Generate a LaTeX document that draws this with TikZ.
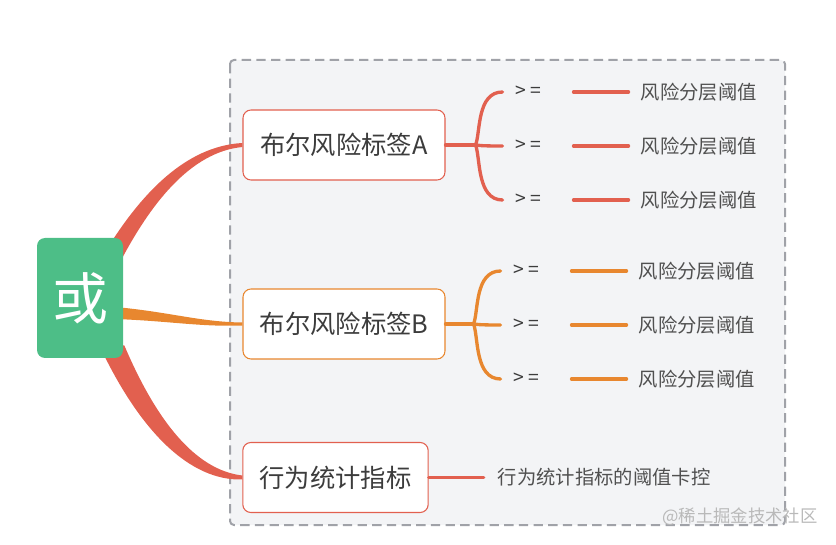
\documentclass[tikz,border=0pt]{standalone}
\usepackage{fontspec}
\setmainfont{Noto Sans CJK SC}
\usetikzlibrary{calc,backgrounds}

\definecolor{rootgreen}{HTML}{4DBE87}
\definecolor{branchred}{HTML}{E2604F}
\definecolor{branchorange}{HTML}{E8872F}
\definecolor{panelgray}{HTML}{F3F4F6}
\definecolor{framegray}{HTML}{A0A2A8}
\definecolor{textgray}{HTML}{3C3C3C}

\tikzset{
  tag/.style={draw, fill=white, rounded corners=6pt, line width=0.8pt,
    minimum width=151.5pt, minimum height=52.5pt, inner sep=0pt,
    text=textgray, font=\fontsize{19}{19}\selectfont},
  gelabel/.style={anchor=west, inner sep=0pt, text=textgray,
    font=\fontsize{14.5}{14.5}\selectfont},
  thrlabel/.style={anchor=west, inner sep=0pt, text=textgray!90,
    font=\fontsize{14.5}{14.5}\selectfont},
  twig/.style={line width=2.5pt, line cap=round}
}

\begin{document}
\begin{tikzpicture}[x=0.75pt,y=-0.75pt]
\useasboundingbox (0,0) rectangle (836,545);

% root and tags
\node[fill=rootgreen, rounded corners=6pt, minimum width=64.5pt, minimum height=90pt,
  inner sep=0pt, text=white, font=\fontsize{42}{42}\selectfont] (root) at (80,298) {或};
\node[tag, draw=branchred] (tagA) at (344,145) {布尔风险标签A};
\node[tag, draw=branchorange] (tagB) at (344,324) {布尔风险标签B};
\node[tag, draw=branchred, minimum width=139pt] (stat) at (335.5,477.5) {行为统计指标};

% panel and main branches behind the nodes
\begin{pgfonlayer}{background}
\draw[framegray, fill=panelgray, line width=1.5pt, dash pattern=on 7pt off 4pt,
  rounded corners=3pt] (230,60) rectangle (785,525);
\fill[branchred] ($(root.north east)+(-18,14)$) .. controls (140,195) and (185,146) ..
  ($(tagA.west)+(0,-2)$) -- ($(tagA.west)+(0,2)$) .. controls (190,152) and (150,205) ..
  ($(root.north east)+(-3,24)$) -- cycle;
\fill[branchorange] ($(root.east)+(-8,9)$) .. controls (170,312) and (200,322) ..
  ($(tagB.west)+(0,-1.5)$) -- ($(tagB.west)+(0,1.5)$) .. controls (200,327) and (170,321) ..
  ($(root.east)+(-8,21)$) -- cycle;
\fill[branchred] ($(root.south east)+(-24,-13)$) .. controls (140,432) and (190,481) ..
  ($(stat.west)+(0,2)$) -- ($(stat.west)+(0,-2)$) .. controls (195,470) and (156,420) ..
  ($(root.south east)+(1,-13)$) -- cycle;
\end{pgfonlayer}

% tag A thresholds
\coordinate (jA) at ($(tagA.east)+(30,0)$);
\draw[twig, branchred] (tagA.east) -- (jA);
\foreach \i/\dy in {1/-53,2/1,3/55} {
  \coordinate (bA\i) at ($(jA)+(27,\dy)$);
  \draw[twig, branchred] (jA) .. controls +(5,0.22*\dy) and +(-26,0) .. (bA\i);
  \node[gelabel] (geA\i) at ($(jA)+(40,\dy)$) {> =};
  \node[thrlabel] (thrA\i) at ($(jA)+(165,\dy)$) {风险分层阈值};
  \draw[twig, branchred] ($(jA)+(98,\dy)$) -- ($(thrA\i.west)+(-12,0)$);
}

% tag B thresholds
\coordinate (jB) at ($(tagB.east)+(28,0)$);
\draw[twig, branchorange] (tagB.east) -- (jB);
\foreach \i/\dy in {1/-53,2/1,3/55} {
  \coordinate (bB\i) at ($(jB)+(27,\dy)$);
  \draw[twig, branchorange] (jB) .. controls +(5,0.22*\dy) and +(-26,0) .. (bB\i);
  \node[gelabel] (geB\i) at ($(jB)+(40,\dy)$) {> =};
  \node[thrlabel] (thrB\i) at ($(jB)+(165,\dy)$) {风险分层阈值};
  \draw[twig, branchorange] ($(jB)+(98,\dy)$) -- ($(thrB\i.west)+(-12,0)$);
}

% behaviour statistics
\node[thrlabel] (statThr) at ($(stat.east)+(69,0)$) {行为统计指标的阈值卡控};
\draw[twig, branchred] (stat.east) -- ($(statThr.west)+(-14,0)$);

% watermark
\node[text=gray!55, font=\fontsize{13}{13}\selectfont] (mark) at (740,517) {@稀土掘金技术社区};
\end{tikzpicture}
\end{document}
